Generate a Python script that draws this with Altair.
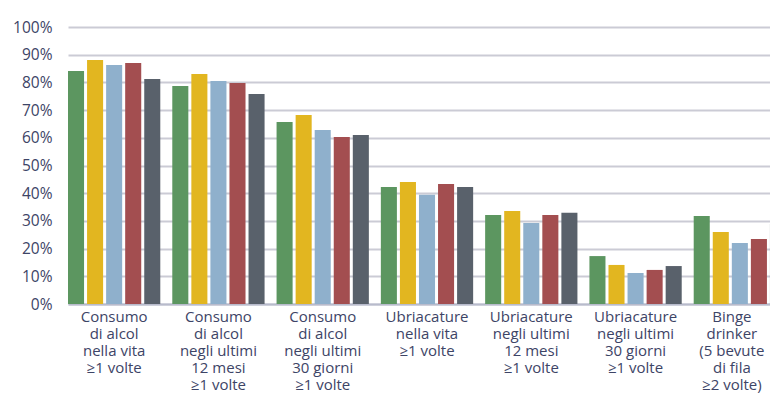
import altair as alt
import pandas as pd

categories = [
    "Consumo|di alcol|nella vita|≥1 volte",
    "Consumo|di alcol|negli ultimi|12 mesi|≥1 volte",
    "Consumo|di alcol|negli ultimi|30 giorni|≥1 volte",
    "Ubriacature|nella vita|≥1 volte",
    "Ubriacature|negli ultimi|12 mesi|≥1 volte",
    "Ubriacature|negli ultimi|30 giorni|≥1 volte",
    "Binge|drinker|(5 bevute|di fila|≥2 volte)",
]
series = ["S1", "S2", "S3", "S4", "S5"]
colors = ["#5c9660", "#e2b620", "#8fb0cc", "#a34e50", "#59616b"]

s1 = [84.1, 78.7, 65.7, 42.2, 32.1, 17.3, 31.8]
s2 = [88.1, 83.0, 68.2, 44.0, 33.6, 14.1, 26.0]
s3 = [86.3, 80.5, 62.8, 39.4, 29.2, 11.2, 22.0]
s4 = [87.0, 79.8, 60.3, 43.3, 32.1, 12.3, 23.5]
s5 = [81.2, 75.8, 61.0, 42.2, 32.9, 13.7, 28.9]

rows = []
for name, vals in zip(series, [s1, s2, s3, s4, s5]):
    for c, v in zip(categories, vals):
        rows.append({"cat": c, "serie": name, "val": v / 100})
df = pd.DataFrame(rows)

font = "Open Sans"
txt = "#3d4466"

last_test = "datum.value == '" + categories[-1] + "'"

chart = alt.Chart(df).mark_bar().encode(
    x=alt.X("cat:N", sort=categories, title=None,
            scale=alt.Scale(paddingInner=0.115, paddingOuter=0, range=[0, 718]),
            axis=alt.Axis(labelAngle=0, labelExpr="split(datum.label, '|')",
                          labelFont=font, labelFontSize=15, labelColor=txt,
                          labelLineHeight=17, labelPadding=5, ticks=False,
                          labelOffset={"condition": {"test": last_test, "value": -8}, "value": 0},
                          domain=True, domainColor="#b8bbcc", domainWidth=2,
                          labelBaseline="top")),
    xOffset=alt.XOffset("serie:N", sort=series,
                        scale=alt.Scale(paddingInner=0.158, paddingOuter=0)),
    y=alt.Y("val:Q", title=None,
            scale=alt.Scale(domain=[0, 1], nice=False),
            axis=alt.Axis(format=".0%", values=[i / 10 for i in range(11)],
                          labelFont=font, labelFontSize=15.5, labelColor=txt,
                          labelPadding=16, ticks=False, domain=False,
                          grid=True, gridColor="#cbcbd5", gridWidth=2)),
    color=alt.Color("serie:N", sort=series,
                    scale=alt.Scale(domain=series, range=colors), legend=None),
).properties(
    width=702, height=277,
    autosize=alt.AutoSizeParams(type="none"),
    padding={"left": 60, "top": 19, "right": 0, "bottom": 89},
).configure_view(stroke=None)

chart.save("out.html", embed_options={"renderer": "svg", "actions": False})
